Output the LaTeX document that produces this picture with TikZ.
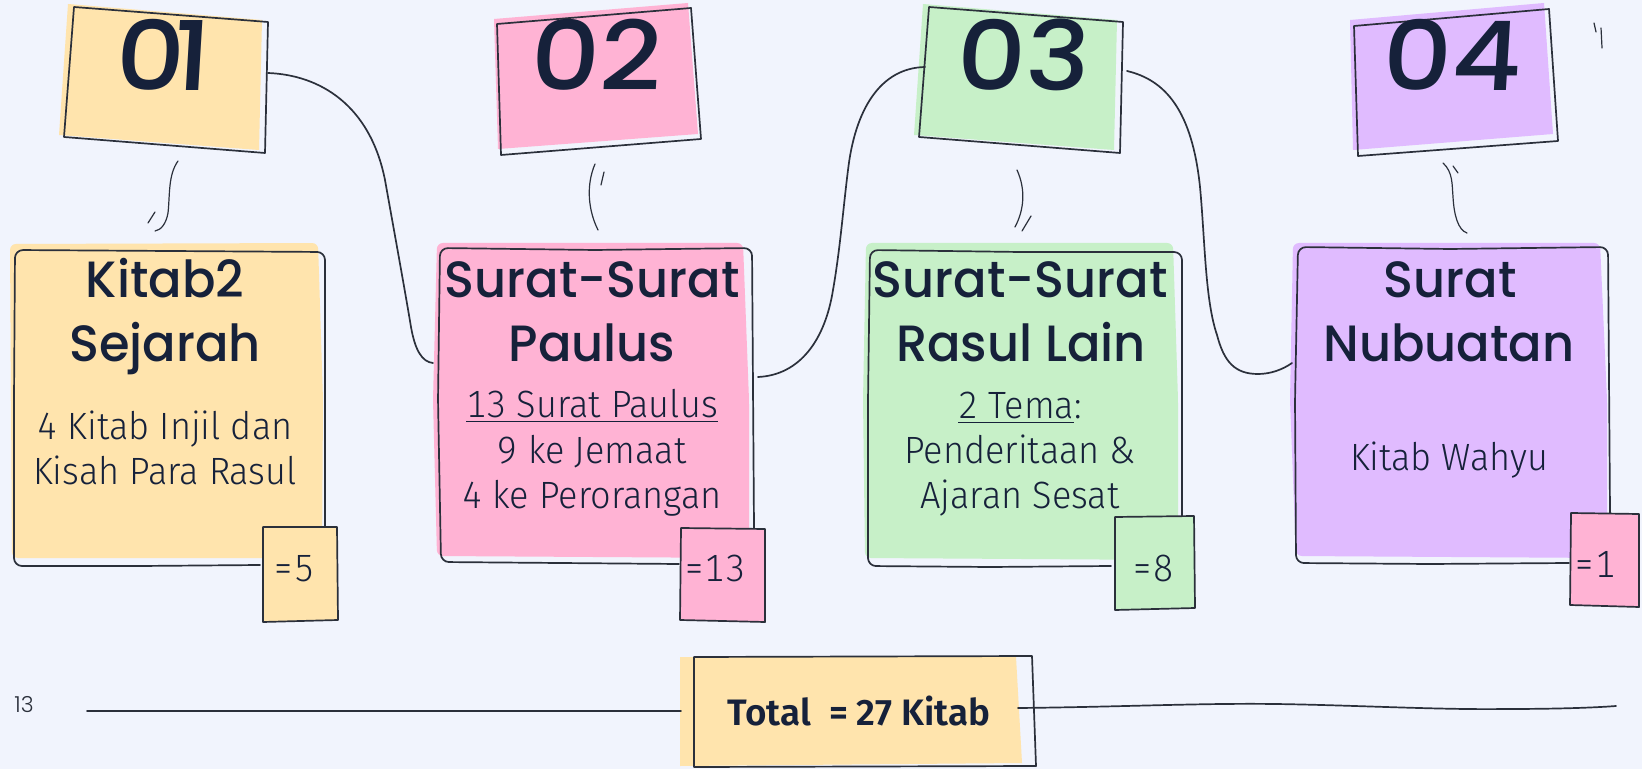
\documentclass[tikz,border=0pt]{standalone}
\usepackage{fontspec}
\newfontfamily\handfont[FakeStretch=0.97]{Poppins Medium}
\newfontfamily\digitfont[FakeSlant=0.06,FakeStretch=1.12]{Poppins Medium}
\newfontfamily\sidefont{Poppins Light}
\newfontfamily\bodyfont[FakeStretch=0.95,Numbers=Monospaced]{Fira Sans Light}
\newfontfamily\strongfont{Fira Sans SemiBold}
\definecolor{bgc}{HTML}{F1F4FD}
\definecolor{ink}{HTML}{16213A}
\definecolor{pen}{HTML}{2B303B}
\definecolor{yel}{HTML}{FFE4AD}
\definecolor{pnk}{HTML}{FFB3D4}
\definecolor{grn}{HTML}{C7F0C8}
\definecolor{pur}{HTML}{E0BBFF}
\tikzset{
  outline/.style={draw=pen,line width=0.85pt,line join=round},
  cardline/.style={draw=pen,line width=0.85pt,rounded corners=4pt,line cap=round},
  link/.style={draw=pen,line width=0.85pt,line cap=round},
  tick/.style={draw=pen,line width=0.6pt,line cap=round},
  numtext/.style={anchor=base,inner sep=0,text=ink,font=\fontsize{48}{48}\digitfont},
  headtext/.style={anchor=base,inner sep=0,text=ink,font=\fontsize{25.5}{27}\handfont},
  bodytext/.style={anchor=base,inner sep=0,text=ink,font=\fontsize{19}{21}\bodyfont},
  totaltext/.style={anchor=base,inner sep=0,text=ink,font=\fontsize{18.4}{21}\strongfont},
}
\begin{document}
\begin{tikzpicture}[x=0.5pt,y=-0.5pt]
\useasboundingbox (0,0) rectangle (1642,769);
\fill[bgc] (0,0) rectangle (1642,769);

% header tiles
\fill[yel] (68,4) -- (262,20) -- (259,150) -- (59,135) -- cycle;
\path[outline] (74,7) -- (268,22) -- (265,153) -- (64,137) -- cycle;
\fill[pnk] (494,19) -- (688,3) -- (698,134) -- (498,149) -- cycle;
\path[outline] (497,24) -- (691,8) -- (701,139) -- (501,155) -- cycle;
\fill[grn] (923,4) -- (1117,20) -- (1114,150) -- (914,135) -- cycle;
\path[outline] (929,7) -- (1123,22) -- (1120,153) -- (919,137) -- cycle;
\fill[pur] (1350,20) -- (1544,3) -- (1553,134) -- (1353,150) -- cycle;
\path[outline] (1354,26) -- (1549,9) -- (1558,141) -- (1358,156) -- cycle;

% cards
\fill[yel,rounded corners=3pt] (10,244) -- (318,243) -- (323,400) -- (322,558) -- (12,558) -- cycle;
\path[cardline] (325,527) -- (325,400) -- (325,252) -- (170,251) -- (15,250) -- (14,400) -- (14,566) -- (140,566) -- (260,565);
\fill[pnk,rounded corners=3pt] (437,243) -- (743,243) -- (749,400) -- (749,558) -- (437,556) -- (433,400) -- cycle;
\path[cardline] (754,528) -- (752,248) -- (595,250) -- (440,248) -- (438,400) -- (441,562) -- (560,563) -- (679,564);
\fill[grn,rounded corners=3pt] (866,243) -- (1173,243) -- (1178,400) -- (1178,560) -- (865,558) -- (863,400) -- cycle;
\path[cardline] (1182,516) -- (1182,252) -- (1020,252) -- (870,250) -- (868,400) -- (868,566) -- (990,567) -- (1111,566);
\fill[pur,rounded corners=3pt] (1293,243) -- (1600,243) -- (1607,400) -- (1607,558) -- (1296,556) -- (1290,400) -- cycle;
\path[cardline] (1610,513) -- (1608,247) -- (1450,249) -- (1298,247) -- (1295,400) -- (1296,563) -- (1430,564) -- (1569,563);

% count badges
\fill[yel] (264,528) -- (337,528) -- (338,620) -- (264,622) -- cycle;
\path[outline] (263,527) -- (337,527) -- (338,620) -- (263,622) -- cycle;
\fill[pnk] (681,529) -- (765,529) -- (765,622) -- (680,620) -- cycle;
\path[outline] (681,528) -- (765,529) -- (765,622) -- (680,620) -- cycle;
\fill[grn] (1115,517) -- (1194,516) -- (1195,608) -- (1115,610) -- cycle;
\path[outline] (1115,517) -- (1194,516) -- (1195,608) -- (1115,610) -- cycle;
\fill[pnk] (1571,513) -- (1639,514) -- (1639,607) -- (1570,605) -- cycle;
\path[outline] (1571,513) -- (1639,514) -- (1639,607) -- (1570,605) -- cycle;

% total
\fill[yel] (680,657) -- (1016,657) -- (1022,763) -- (680,766) -- cycle;
\path[outline] (694,657) -- (1032,656) -- (1036,766) -- (694,767) -- cycle;

% connector ends
\coordinate (a1) at (268,73);
\coordinate (b1) at (433,363);
\coordinate (a2) at (758,377);
\coordinate (b2) at (925,67);
\coordinate (a3) at (1127,71);
\coordinate (b3) at (1292,363);
\coordinate (t0) at (87,711);
\coordinate (t1) at (681,711);
\coordinate (t2) at (1018,708);
\coordinate (t3) at (1616,706);

\draw[link] (a1) .. controls (320,75) and (370,105) .. (385,180) .. controls (393,225) and (404,285) .. (411,327) .. controls (415,350) and (422,362) .. (b1);
\draw[link] (a2) .. controls (800,375) and (825,340) .. (833,290) .. controls (840,250) and (843,210) .. (848,170) .. controls (855,110) and (880,68) .. (b2);
\draw[link] (a3) .. controls (1165,80) and (1192,110) .. (1200,187) .. controls (1205,240) and (1205,300) .. (1217,335) .. controls (1224,362) and (1235,374) .. (1258,374) .. controls (1270,374) and (1282,370) .. (b3);
\draw[link,line width=0.95pt] (t0) -- (t1);
\draw[link] (t2) .. controls (1120,707) and (1200,703) .. (1275,704) .. controls (1350,705) and (1440,710) .. (1505,709) .. controls (1550,709) and (1590,708) .. (t3);

% short stubs
\draw[tick] (178,161) .. controls (168,175) and (170,195) .. (168,213) .. controls (166,224) and (161,230) .. (155,231);
\draw[tick] (155,212) -- (148,223);
\draw[tick] (595,164) .. controls (586,185) and (588,210) .. (598,230);
\draw[tick] (604,172) -- (601,185);
\draw[tick] (1017,170) .. controls (1026,190) and (1024,210) .. (1015,227);
\draw[tick] (1031,216) -- (1022,231);
\draw[tick] (1443,163) .. controls (1453,172) and (1452,185) .. (1453,197) .. controls (1454,215) and (1458,230) .. (1467,233);
\draw[tick] (1453,166) -- (1458,173);
\draw[tick] (1594,23) -- (1596,32);
\draw[tick] (1601,28) -- (1602,48);

% tile numbers
\node[numtext] (n1) at (162,91) {0\kern-6pt 1};
\node[numtext] (n2) at (595,91) {02};
\node[numtext] (n3) at (1022,91) {03};
\node[numtext] (n4) at (1451,91) {04};

% headings
\node[headtext] (h1a) at (165,298) {Kitab2};
\node[headtext] (h1b) at (165,362) {Sejarah};
\node[headtext] (h2a) at (592,298) {Surat-Surat};
\node[headtext] (h2b) at (592,362) {Paulus};
\node[headtext] (h3a) at (1020,298) {Surat-Surat};
\node[headtext] (h3b) at (1021,362) {Rasul Lain};
\node[headtext] (h4a) at (1450,298) {Surat};
\node[headtext] (h4b) at (1449,362) {Nubuatan};

% body text
\node[bodytext] (b1a) at (165,440) {4 Kitab Injil dan};
\node[bodytext] (b1b) at (165,485) {Kisah Para Rasul};
\node[bodytext] (b2a) at (592,418) {\underline{13 Surat Paulus}};
\node[bodytext] (b2b) at (592,464) {9 ke Jemaat};
\node[bodytext] (b2c) at (592,509) {4 ke Perorangan};
\node[bodytext] (b3a) at (1020,419) {\underline{2 Tema}:};
\node[bodytext] (b3b) at (1020,464) {Penderitaan \&};
\node[bodytext] (b3c) at (1020,509) {Ajaran Sesat};
\node[bodytext] (b4a) at (1449,471) {Kitab Wahyu};

% badge text
\node[bodytext] (c1) at (294,581) {=5};
\node[bodytext] (c2) at (715,581) {=13};
\node[bodytext] (c3) at (1153,581) {=8};
\node[bodytext] (c4) at (1595,577) {=1};

\node[totaltext] (tot) at (859,725) {Total\ \ = 27 Kitab};
\node[anchor=base,inner sep=0,text=pen,font=\fontsize{11}{11}\sidefont] (side) at (24,712) {13};
\end{tikzpicture}
\end{document}
